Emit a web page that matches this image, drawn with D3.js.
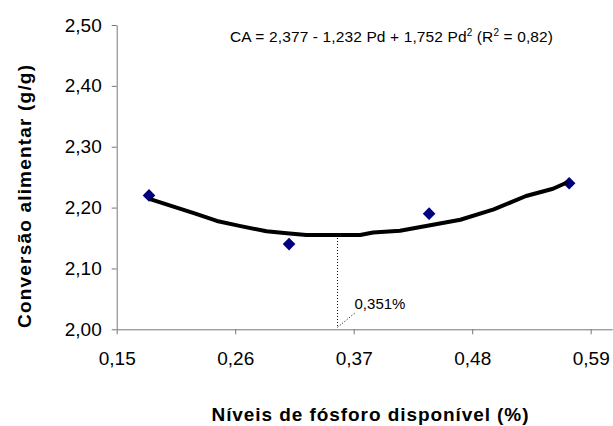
<!DOCTYPE html>
<html>
  <head>
    <style>
    body { margin: 0; background: #fff; }
    svg { display: block; font-family: "Liberation Sans", Arial, sans-serif; }
    </style>
    <script src="https://d3js.org/d3.v7.min.js"></script>
  </head>
  <body>
    <script type="text/javascript">
    // observed points
    var niveis = [0.18, 0.31, 0.44, 0.57];
    var conversao = [2.22, 2.14, 2.19, 2.24];

    // fitted curve
    var curvaX = [0.181, 0.223, 0.243, 0.264, 0.289, 0.308, 0.326, 0.376, 0.388, 0.413, 0.441, 0.469, 0.500, 0.530, 0.555, 0.569];
    var curvaY = [2.214, 2.190, 2.178, 2.170, 2.161, 2.158, 2.155, 2.155, 2.159, 2.162, 2.171, 2.180, 2.197, 2.219, 2.231, 2.242];

    var xTicks = [0.15, 0.26, 0.37, 0.48, 0.59];
    var yTicks = [2.00, 2.10, 2.20, 2.30, 2.40, 2.50];
    var minimo = 0.355; // where the dotted marker sits
    var minimoLabel = "0,351%";

    var width = 613, height = 426;
    var fmt = function(d) { return d3.format(".2f")(d).replace(".", ","); };

    var svg = d3.select("body")
      .append("svg")
      .attr("width", width)
      .attr("height", height);

    // axis runs past 0,59 to the edge
    var xScale = d3.scaleLinear()
      .domain([0.15, 0.61])
      .range([116.7, 116.7 + 0.46 / 0.11 * 118.5]);

    var yScale = d3.scaleLinear()
      .domain([2.0, 2.5])
      .range([329.3, 25]);

    // x axis
    var gx = svg.append("g")
      .attr("transform", "translate(0," + yScale(2.0) + ")")
      .call(d3.axisBottom(xScale).tickValues(xTicks).tickFormat(fmt)
        .tickSize(5).tickSizeOuter(0).tickPadding(17));
    gx.selectAll("path, line").attr("stroke", "#777");
    gx.selectAll("text").attr("font-size", 19).attr("fill", "#000")
      .attr("font-family", "Liberation Sans, Arial, sans-serif");

    // y axis
    var gy = svg.append("g")
      .attr("transform", "translate(" + xScale(0.15) + ",0)")
      .call(d3.axisLeft(yScale).tickValues(yTicks).tickFormat(fmt)
        .tickSize(5).tickSizeOuter(0).tickPadding(10));
    gy.selectAll("path, line").attr("stroke", "#777");
    gy.selectAll("text").attr("font-size", 19).attr("fill", "#000")
      .attr("font-family", "Liberation Sans, Arial, sans-serif");

    // dotted marker at the minimum
    var yMin = d3.min(curvaY);
    svg.append("line")
      .attr("x1", xScale(minimo)).attr("x2", xScale(minimo))
      .attr("y1", yScale(yMin)).attr("y2", yScale(2.0) - 2)
      .attr("stroke", "#000").attr("stroke-width", 1)
      .attr("stroke-dasharray", "1,2");
    svg.append("line")
      .attr("x1", xScale(minimo)).attr("y1", yScale(2.0) - 2)
      .attr("x2", xScale(minimo) + 17).attr("y2", yScale(2.0) - 16)
      .attr("stroke", "#000").attr("stroke-width", 1)
      .attr("stroke-dasharray", "1,2");
    svg.append("text")
      .attr("x", xScale(minimo) + 17)
      .attr("y", yScale(2.0) - 20)
      .attr("font-size", 15)
      .text(minimoLabel);

    // observed points
    svg.selectAll(".ponto")
      .data(niveis)
      .enter().append("path")
      .attr("class", "ponto")
      .attr("d", d3.symbol(d3.symbolSquare, 80))
      .attr("transform", function(d, i) {
        return "translate(" + xScale(d) + "," + yScale(conversao[i]) + ") rotate(45)";
      })
      .attr("fill", "#000080");

    // regression curve
    var line = d3.line()
      .x(function(d, i) { return xScale(d); })
      .y(function(d, i) { return yScale(curvaY[i]); });
    svg.append("path")
      .datum(curvaX)
      .attr("d", line)
      .attr("fill", "none")
      .attr("stroke", "#000")
      .attr("stroke-width", 4)
      .attr("stroke-linejoin", "round");

    // equation
    var eq = svg.append("text")
      .attr("x", 230).attr("y", 42)
      .attr("font-size", 15.5)
      .attr("textLength", 323);
    eq.append("tspan").text("CA = 2,377 - 1,232 Pd + 1,752 Pd");
    eq.append("tspan").attr("font-size", 10).attr("dy", -6).text("2");
    eq.append("tspan").attr("dy", 6).text(" (R");
    eq.append("tspan").attr("font-size", 10).attr("dy", -6).text("2");
    eq.append("tspan").attr("dy", 6).text(" = 0,82)");

    // axis titles
    svg.append("text")
      .attr("x", 370).attr("y", 421)
      .attr("text-anchor", "middle")
      .attr("font-size", 19).attr("font-weight", "bold")
      .attr("textLength", 317).attr("lengthAdjust", "spacing")
      .text("Níveis de fósforo disponível (%)");

    svg.append("text")
      .attr("transform", "translate(31,196.5) rotate(-90)")
      .attr("text-anchor", "middle")
      .attr("font-size", 19).attr("font-weight", "bold")
      .attr("textLength", 263).attr("lengthAdjust", "spacing")
      .text("Conversão alimentar (g/g)");
    </script>
  </body>
</html>
